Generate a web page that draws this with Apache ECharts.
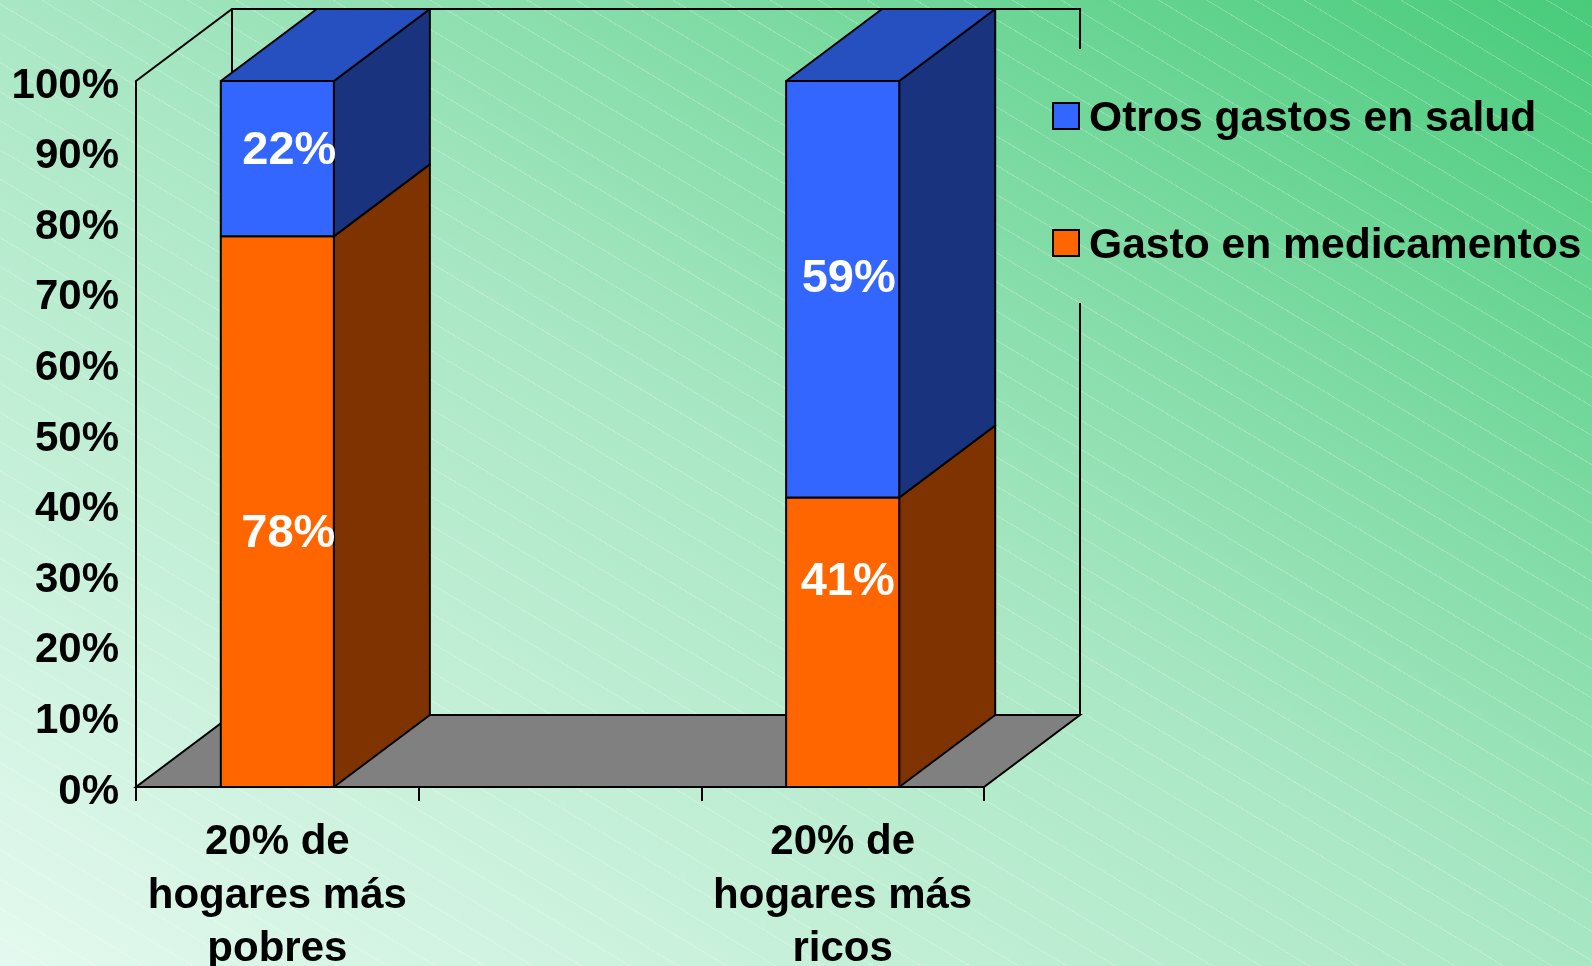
<!DOCTYPE html>
<html>
<head>
<meta charset="utf-8">
<script src="https://cdn.jsdelivr.net/npm/echarts@6/dist/echarts.min.js"></script>
<style>
  html, body { margin: 0; padding: 0; }
  body {
    width: 1592px;
    height: 966px;
    background:
      repeating-linear-gradient(31deg, rgba(255,255,255,0) 0px, rgba(255,255,255,0) 24px, rgba(255,255,255,0.24) 24px, rgba(255,255,255,0.24) 25px),
      linear-gradient(to top right, #e4f9ef 0%, #a9e7c4 50%, #48cb7a 100%);
  }
  #chart { width: 1592px; height: 966px; }
</style>
</head>
<body>
<div id="chart"></div>
<script>
// datos (la categoría del medio va vacía, como en el original)
const categories = ["20% de\nhogares más\npobres", "", "20% de\nhogares más\nricos"];
const gastoMedicamentos = [78, null, 41];
const otrosGastos = [22, null, 59];
const seriesNames = ["Otros gastos en salud", "Gasto en medicamentos"];

// estilo
const FONT = "'Liberation Sans', Arial, sans-serif";
const DX = 96, DY = -72; // profundidad 3D
const BAR_FRAC = 0.4;
const colors = {
  med: { front: "#ff6600", side: "#7f3300", top: "#cc5200" },
  otros: { front: "#3366ff", side: "#1a337f", top: "#264fbf" },
};
// ajuste de las etiquetas de valor (x, y) respecto al centro de cada tramo
const labelNudge = {
  med: [[11, 22], null, [5, -60]],
  otros: [[12, -8], null, [6, -10]],
};
const legendGap = [49, 303]; // hueco de la línea derecha detrás de la leyenda

const chart = echarts.init(document.getElementById("chart"));

function cube(api, idx, lo, hi, col, text, nudge) {
  const b = api.coord([idx, lo]);
  const t = api.coord([idx, hi]);
  const w = api.size([1, 0])[0] * BAR_FRAC;
  const x0 = b[0] - w / 2, x1 = b[0] + w / 2;
  const yb = b[1], yt = t[1];
  const stroke = { stroke: "#000", lineWidth: 2, lineJoin: "round" };
  return {
    type: "group",
    children: [
      {
        type: "polygon",
        shape: { points: [[x1, yb], [x1 + DX, yb + DY], [x1 + DX, yt + DY], [x1, yt]] },
        style: Object.assign({ fill: col.side }, stroke),
      },
      {
        type: "polygon",
        shape: { points: [[x0, yt], [x1, yt], [x1 + DX, yt + DY], [x0 + DX, yt + DY]] },
        style: Object.assign({ fill: col.top }, stroke),
      },
      {
        type: "rect",
        shape: { x: x0, y: yt, width: w, height: yb - yt },
        style: Object.assign({ fill: col.front }, stroke),
      },
      {
        type: "text",
        x: b[0] + nudge[0],
        y: (yb + yt) / 2 + nudge[1],
        style: {
          text: text,
          fill: "#fff",
          font: "bold 47px " + FONT,
          align: "center",
          verticalAlign: "middle",
        },
      },
    ],
  };
}

function barData(vals, base) {
  const out = [];
  vals.forEach((v, i) => {
    if (v == null) return;
    const lo = base ? base[i] : 0;
    out.push([i, lo, lo + v, v]);
  });
  return out;
}

const option = {
  backgroundColor: "transparent",
  animation: false,
  grid: { left: 136, right: 608, top: 81, bottom: 179, containLabel: false, outerBoundsMode: "none" },
  xAxis: {
    type: "category",
    data: categories,
    axisLine: { lineStyle: { color: "#000", width: 2 } },
    axisTick: { show: true, length: 14, lineStyle: { color: "#000", width: 2 } },
    axisLabel: {
      interval: 0,
      margin: 29,
      color: "#000",
      fontFamily: FONT,
      fontWeight: "bold",
      fontSize: 42,
      lineHeight: 53.5,
      align: "center",
    },
    splitLine: { show: false },
  },
  yAxis: {
    type: "value",
    min: 0,
    max: 100,
    interval: 10,
    axisLine: { show: true, lineStyle: { color: "#000", width: 2 } },
    axisTick: { show: false },
    splitLine: { show: false },
    axisLabel: {
      formatter: "{v|{value}%}",
      margin: 17,
      rich: {
        v: {
          color: "#000",
          fontFamily: FONT,
          fontWeight: "bold",
          fontSize: 42,
          padding: [10, 0, 0, 0],
        },
      },
    },
  },
  legend: {
    orient: "vertical",
    left: 1052,
    top: 98,
    padding: 0,
    itemWidth: 26,
    itemHeight: 26,
    itemGap: 84,
    icon: "rect",
    selectedMode: false,
    formatter: "{t|{name}}",
    textStyle: {
      rich: {
        t: {
          color: "#000",
          fontFamily: FONT,
          fontWeight: "bold",
          fontSize: 42.6,
          padding: [7, 0, 0, 5],
        },
      },
    },
    data: [
      { name: seriesNames[0], itemStyle: { color: colors.otros.front, borderColor: "#000", borderWidth: 2 } },
      { name: seriesNames[1], itemStyle: { color: colors.med.front, borderColor: "#000", borderWidth: 2 } },
    ],
  },
  series: [
    {
      // suelo y paredes
      type: "custom",
      name: "walls",
      z: 1,
      clip: false,
      silent: true,
      data: [[0]],
      renderItem: (params, api) => {
        const bw = api.size([1, 0])[0];
        const left = api.coord([0, 0])[0] - bw / 2;
        const right = api.coord([categories.length - 1, 0])[0] + bw / 2;
        const y0 = api.coord([0, 0])[1];
        const yTop = api.coord([0, 100])[1];
        const line = { stroke: "#000", lineWidth: 2, fill: null };
        return {
          type: "group",
          children: [
            {
              type: "polygon",
              shape: { points: [[left, y0], [right, y0], [right + DX, y0 + DY], [left + DX, y0 + DY]] },
              style: { fill: "#808080", stroke: "#000", lineWidth: 2 },
            },
            {
              type: "polyline",
              shape: { points: [[left, yTop], [left + DX, yTop + DY], [right + DX, yTop + DY], [right + DX, legendGap[0]]] },
              style: line,
            },
            {
              type: "polyline",
              shape: { points: [[right + DX, legendGap[1]], [right + DX, y0 + DY]] },
              style: line,
            },
            {
              type: "polyline",
              shape: { points: [[left + DX, yTop + DY], [left + DX, y0 + DY]] },
              style: line,
            },
          ],
        };
      },
    },
    {
      type: "custom",
      name: seriesNames[1],
      z: 2,
      clip: false,
      itemStyle: { color: colors.med.front },
      data: barData(gastoMedicamentos, null),
      renderItem: (params, api) => {
        const i = api.value(0);
        return cube(api, i, api.value(1), api.value(2), colors.med, api.value(3) + "%", labelNudge.med[i]);
      },
    },
    {
      type: "custom",
      name: seriesNames[0],
      z: 3,
      clip: false,
      itemStyle: { color: colors.otros.front },
      data: barData(otrosGastos, gastoMedicamentos),
      renderItem: (params, api) => {
        const i = api.value(0);
        return cube(api, i, api.value(1), api.value(2), colors.otros, api.value(3) + "%", labelNudge.otros[i]);
      },
    },
  ],
};

chart.setOption(option);
</script>
</body>
</html>
